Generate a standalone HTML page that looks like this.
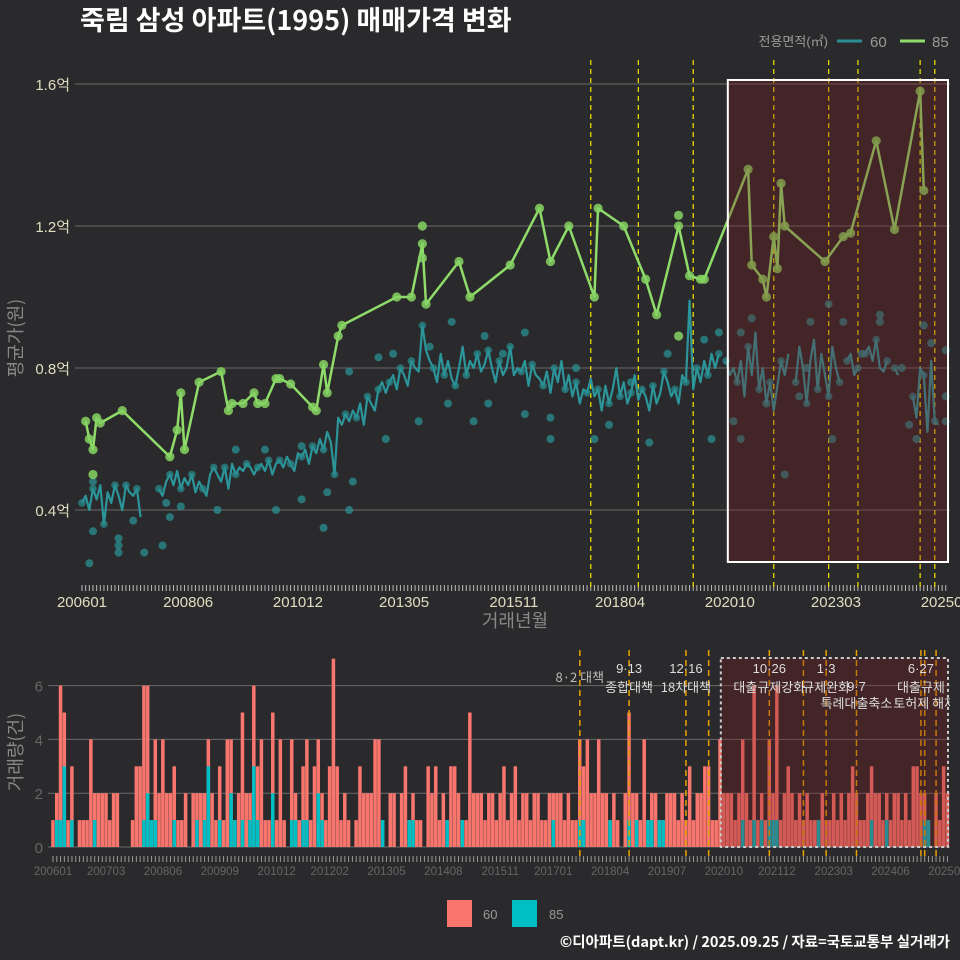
<!DOCTYPE html>
<html><head><meta charset="utf-8">
<style>
html,body{margin:0;padding:0;background:#2a2a2c;}
svg{display:block;font-family:"Liberation Sans","Noto Sans CJK KR",sans-serif;}
</style></head>
<body>
<svg id="chart" width="960" height="960" viewBox="0 0 960 960" xmlns="http://www.w3.org/2000/svg">
<rect x="0" y="0" width="960" height="960" fill="#2a2a2c"/>
<text x="80" y="30" fill="#ffffff" font-size="27" font-weight="bold" font-family="'Noto Sans CJK KR',sans-serif">죽림 삼성 아파트(1995) 매매가격 변화</text>
<g id="topPanel"></g>
<g id="botPanel"></g>
<g>
<text x="828" y="46" fill="#999" font-size="13" text-anchor="end">전용면적(㎡)</text>
<line x1="837" y1="41" x2="862" y2="41" stroke="#2b8f94" stroke-width="3"/>
<text x="870" y="47" fill="#999" font-size="15">60</text>
<line x1="900" y1="41" x2="925" y2="41" stroke="#8fdc6a" stroke-width="3"/>
<text x="932" y="47" fill="#999" font-size="15">85</text>
</g>
<g>
<rect x="447" y="900" width="25" height="27" fill="#f8766d"/>
<text x="483" y="919" fill="#999" font-size="13">60</text>
<rect x="512" y="900" width="25" height="27" fill="#00bfc4"/>
<text x="549" y="919" fill="#999" font-size="13">85</text>
</g>
<text x="950" y="947" fill="#ffffff" font-size="14.5" font-weight="bold" text-anchor="end" font-family="'Noto Sans CJK KR',sans-serif">©디아파트(dapt.kr) / 2025.09.25 / 자료=국토교통부 실거래가</text>
</svg>
<script>
// ---------- data ----------
const topTickLabels = ["200601","200806","201012","201305","201511","201804","202010","202303","202509"];
const topTickMonths = [0,29,59,88,118,147,177,206,236];
const yTickValues = [0.4,0.8,1.2,1.6];
const yTickLabels = ["0.4억","0.8억","1.2억","1.6억"];
const botTickLabels = ["200601","200703","200806","200909","201012","201202","201305","201408","201511","201701","201804","201907","202010","202112","202303","202406","202509"];
const botTickMonths = [0,14,29,44,59,73,88,103,118,132,147,162,177,191,206,221,236];
const botYTicks = [0,2,4,6];
// 85㎡ monthly average [monthIndex, 억]
const s85 = [[1,0.65],[2,0.60],[3,0.57],[4,0.66],[5,0.645],[11,0.68],[24,0.55],[26,0.625],[27,0.73],[28,0.57],[32,0.76],[38,0.79],[40,0.68],[41,0.70],[44,0.70],[47,0.73],[48,0.70],[50,0.70],[53,0.77],[54,0.77],[57,0.755],[63,0.69],[64,0.68],[66,0.81],[67,0.73],[70,0.89],[71,0.92],[86,1.0],[90,1.0],[93,1.15],[94,0.98],[103,1.10],[106,1.0],[117,1.09],[125,1.25],[128,1.10],[133,1.2],[140,1.0],[141,1.25],[148,1.2],[154,1.05],[157,0.95],[163,1.2],[166,1.06],[169,1.05],[170,1.05],[182,1.36],[183,1.09],[186,1.05],[187,1.0],[189,1.17],[190,1.08],[191,1.32],[192,1.2],[203,1.10],[208,1.17],[210,1.18],[217,1.44],[222,1.19],[229,1.58],[230,1.30]];
const s85Extra = [[3,0.50],[93,1.2],[93,1.11],[163,1.23],[163,0.89]];
// 60㎡ monthly average (hundredths of 억), null = no trade
const s60 = [42,44,40,46,43,47,36,45,42,47,44,40,
47,45,44,46,38,null,null,null,null,46,44,48,
50,47,51,46,49,47,50,45,48,46,44,50,
52,50,48,52,46,53,50,52,51,53,52,50,
52,53,51,54,50,53,54,52,55,53,51,56,
55,57,53,58,56,60,57,62,59,50,66,64,
67,65,68,66,70,64,72,70,68,74,76,73,
76,78,74,80,78,75,82,80,79,92,85,82,
80,76,84,78,82,77,75,80,86,78,82,80,
84,79,81,85,80,76,82,78,80,86,78,80,
79,82,75,81,78,77,75,79,73,80,76,82,
74,78,72,76,70,74,73,77,72,74,68,75,
70,74,80,72,76,70,73,78,71,74,72,68,
75,70,73,79,76,72,74,70,78,76,99,74,
80,76,82,78,84,80,84,null,82,78,80,76,
82,72,86,78,90,74,80,70,76,68,75,82,
78,84,null,76,86,80,70,82,88,74,84,78,
72,86,80,76,null,82,84,78,80,null,84,86,
82,88,80,79,82,null,80,78,null,null,null,72,
66,80,78,62,82,65,64,null,null];
const s60Extra = [[2,0.25],[3,0.34],[10,0.32],[10,0.30],[10,0.28],[17,0.28],[22,0.30],[14,0.37],[24,0.38],[23,0.42],[27,0.41],[37,0.40],[53,0.40],[60,0.43],[66,0.35],[67,0.45],[73,0.40],[74,0.48],[73,0.79],[81,0.83],[42,0.57],[50,0.57],[60,0.58],[3,0.48],[101,0.93],[121,0.90],[92,0.65],[107,0.65],[83,0.60],[128,0.60],[140,0.60],[144,0.64],[155,0.59],[172,0.60],[180,0.60],[178,0.65],[205,0.60],[187,0.70],[196,0.72],[204,0.98],[218,0.95],[218,0.93],[226,0.64],[228,0.60],[236,0.65],[236,0.85],[236,0.72],[232,0.87],[230,0.92],[183,0.94],[199,0.93],[208,0.93],[174,0.90],[180,0.90],[192,0.50],[100,0.70],[111,0.70],[121,0.67],[128,0.66],[110,0.89],[85,0.84],[95,0.86],[115,0.84],[135,0.80],[150,0.76],[160,0.84],[170,0.88],[198,0.80],[213,0.84],[224,0.80]];
// monthly trade counts (total) and 85㎡ counts
const volTotal = [1,2,6,5,1,3,0,1,1,1,4,2,
2,2,2,1,2,2,0,0,0,1,3,3,
6,6,1,4,2,4,2,2,3,1,1,2,
0,2,2,2,2,4,2,1,3,1,4,4,
1,2,5,2,2,6,3,4,1,1,5,1,
4,1,0,4,2,1,3,4,1,3,4,2,
1,3,7,3,1,2,1,0,1,3,2,2,
2,4,4,1,0,2,2,0,2,3,1,2,
1,1,0,3,2,3,1,2,1,3,3,2,
1,1,5,2,2,2,1,2,2,1,2,3,
1,2,3,1,2,2,1,2,
2,1,1,2,2,2,2,1,2,1,1,4,3,4,2,2,4,2,2,1,2,1,0,2,5,2,2,1,4,1,2,2,1,1,2,2,2,1,2,1,3,1,2,2,3,3,1,1,4,2,2,2,1,2,4,2,1,6,1,2,1,4,2,6,1,2,3,2,1,2,1,2,1,1,1,2,1,1,2,1,2,1,2,3,2,1,1,2,3,2,2,1,2,1,2,2,1,2,1,3,3,2,2,1,0,2,1,3,2];
const vol85 = [[1,1],[2,1],[3,3],[5,1],[11,1],[24,1],[25,2],[26,1],[27,1],[32,1],[38,1],[40,1],[41,3],[44,1],[47,2],[48,1],[50,1],[52,1],[53,3],[54,1],[58,2],[63,1],[64,1],[66,1],[67,1],[70,2],[71,1],[87,1],[91,1],[94,2],[95,1],[104,1],[108,1],[132,1],[139,1],[140,1],[147,1],[152,1],[154,1],[157,1],[158,1],[160,1],[161,2],[182,1],[185,1],[187,1],[189,1],[190,1],[191,1],[202,1],[216,1],[220,1],[230,1],[231,1]];
// policy events
const policyMonths = [139,152,167,189,204,212,229,233];
const policyMonthsBottom = [139,152,167,173,189,198,204,212,229,230,233];
const annotations = [[139,"","8·2 대책"],[152,"9·13","종합대책"],[167,"12·16","18차대책"],[189,"10·26","대출규제강화"],[204,"1·3","규제완화"],[229,"6·27","대출규제"]];
const highlightStartMonth = 177;

// ---------- scales ----------
const xT = m => 82 + m*3.66;
const yT = v => 510 - (v-0.4)*355;
const xB = m => 53 + m*3.79;
const yB = c => 847 - c*26.9;
const NS = "http://www.w3.org/2000/svg";
function mk(tag, attrs, parent){ const e=document.createElementNS(NS,tag); for(const k in attrs) e.setAttribute(k,attrs[k]); parent.appendChild(e); return e; }

const topG = document.getElementById('topPanel');
const botG = document.getElementById('botPanel');

yTickValues.forEach((v,i)=>{
  const g = mk('line',{x1:75,x2:950,y1:yT(v),y2:yT(v),stroke:'#6a6a6a','stroke-width':1},topG);
  
  
  const t = mk('text',{x:70,y:yT(v)+6,fill:'#e0dcc0','font-size':15,'text-anchor':'end'},topG);
  t.textContent = yTickLabels[i];
  
  
});
for(let m=0;m<=236;m++){
  const tk = mk('line',{x1:xT(m),x2:xT(m),y1:585,y2:591,stroke:'#bbb','stroke-width':1},topG);
  
  
}
topTickLabels.forEach((l,i)=>{
  const t = mk('text',{x:xT(topTickMonths[i]),y:607,fill:'#e0dcc0','font-size':15,'text-anchor':'middle'},topG);
  t.textContent = l;
  
  
});
const xt = mk('text',{x:515,y:627,fill:'#888','font-size':18,'text-anchor':'middle','font-family':"'Noto Sans CJK KR',sans-serif"},topG);
xt.textContent='거래년월';


const yt = mk('text',{x:0,y:0,fill:'#888','font-size':18,'text-anchor':'middle','transform':'translate(22,338) rotate(-90)','font-family':"'Noto Sans CJK KR',sans-serif"},topG);
yt.textContent='평균가(원)';



policyMonths.forEach(m=>{
  const l = mk('line',{x1:xT(m),x2:xT(m),y1:60,y2:590,stroke:'#e8d800','stroke-width':1.3,'stroke-dasharray':'5,4'},topG);
  
  
});

s60Extra.forEach(p=>{
  const c = mk('circle',{cx:xT(p[0]),cy:yT(p[1]),r:4,fill:'#2a8f92','fill-opacity':0.75},topG);
  
  
});
let seg=[];
const segs=[];
s60.forEach((v,m)=>{ if(v===null){ if(seg.length) segs.push(seg); seg=[]; } else seg.push([m,v/100]); });
if(seg.length) segs.push(seg);
segs.forEach(sg=>{
  const pl = mk('polyline',{points:sg.map(p=>xT(p[0])+','+yT(p[1])).join(' '),fill:'none',stroke:'#2b959a','stroke-width':2.2,'stroke-linejoin':'round'},topG);
  
  
  sg.forEach((p,i)=>{ if(i%3===0){
    const c = mk('circle',{cx:xT(p[0]),cy:yT(p[1]),r:3.8,fill:'#2a8f92','fill-opacity':0.7},topG);
    
    
  }});
});
const pl85 = mk('polyline',{points:s85.map(p=>xT(p[0])+','+yT(p[1])).join(' '),fill:'none',stroke:'#8fdc6a','stroke-width':2.5,'stroke-linejoin':'round'},topG);


s85.concat(s85Extra).forEach(p=>{
  const c = mk('circle',{cx:xT(p[0]),cy:yT(p[1]),r:4.6,fill:'#86d363','fill-opacity':0.85},topG);
  
  
});
const hx = xT(highlightStartMonth)-2;
const hr = mk('rect',{x:hx,y:80,width:948-hx,height:482,fill:'rgba(125,25,30,0.3)',stroke:'#ffffff','stroke-width':2},topG);



// ---- bottom panel
botYTicks.forEach(v=>{
  const g = mk('line',{x1:48,x2:950,y1:yB(v),y2:yB(v),stroke:'#6a6a6a','stroke-width':1},botG);
  
  
  const t = mk('text',{x:43,y:yB(v)+6,fill:'#666','font-size':15,'text-anchor':'end'},botG);
  t.textContent = String(v);
  
  
});
const vc85 = new Array(volTotal.length).fill(0);
vol85.forEach(p=>{ vc85[p[0]] = p[1]; });
volTotal.forEach((tot,m)=>{
  if(tot<=0) return;
  const c85 = Math.min(vc85[m],tot);
  const r = mk('rect',{x:xB(m)-1.8,y:yB(tot),width:3.5,height:yB(0)-yB(tot),fill:'#f8766d'},botG);
  
  
  if(c85>0){
    const r2 = mk('rect',{x:xB(m)-1.8,y:yB(c85),width:3.5,height:yB(0)-yB(c85),fill:'#00bfc4'},botG);
    
    
  }
});
for(let m=0;m<=236;m++){
  const tk = mk('line',{x1:xB(m),x2:xB(m),y1:856,y2:862,stroke:'#999','stroke-width':1},botG);
  
  
}
botTickLabels.forEach((l,i)=>{
  const t = mk('text',{x:xB(botTickMonths[i]),y:875,fill:'#666','font-size':11.5,'text-anchor':'middle'},botG);
  t.textContent = l;
  
  
});
const byt = mk('text',{x:0,y:0,fill:'#888','font-size':18,'text-anchor':'middle','transform':'translate(22,752) rotate(-90)','font-family':"'Noto Sans CJK KR',sans-serif"},botG);
byt.textContent='거래량(건)';


policyMonthsBottom.forEach(m=>{
  const l = mk('line',{x1:xB(m),x2:xB(m),y1:650,y2:858,stroke:'#e8a000','stroke-width':1.5,'stroke-dasharray':'6,4'},botG);
  
  
});
const bx = xB(highlightStartMonth)-3;
const br = mk('rect',{x:bx,y:658,width:948-bx,height:189,fill:'rgba(125,25,30,0.3)',stroke:'#cccccc','stroke-width':2,'stroke-dasharray':'3,3'},botG);


const clip = mk('clipPath',{id:'annclip'},botG);
mk('rect',{x:0,y:640,width:950,height:80},clip);
const ag = mk('g',{'clip-path':'url(#annclip)'},botG);
annotations.forEach(a=>{
  const x = xB(a[0]);
  if(a[1]){
    const t1 = mk('text',{x:x,y:673,fill:'#ddd','font-size':13,'text-anchor':'middle'},ag);
    t1.textContent = a[1];
    
    
    const t2 = mk('text',{x:x,y:692,fill:'#ddd','font-size':13,'text-anchor':'middle','font-family':"'Noto Sans CJK KR',sans-serif"},ag);
    t2.textContent = a[2];
    
    
  } else {
    const t = mk('text',{x:x,y:682,fill:'#bbb','font-size':13,'text-anchor':'middle','font-family':"'Noto Sans CJK KR',sans-serif"},ag);
    t.textContent = a[2];
    
    
  }
});
const t97 = mk('text',{x:xB(212),y:691,fill:'#ddd','font-size':13,'text-anchor':'middle'},ag);
t97.textContent='9·7';


const t97b = mk('text',{x:xB(212),y:708,fill:'#ddd','font-size':13,'text-anchor':'middle','font-family':"'Noto Sans CJK KR',sans-serif"},ag);
t97b.textContent='특례대출축소';


const tth = mk('text',{x:xB(230),y:708,fill:'#ddd','font-size':13,'text-anchor':'middle','font-family':"'Noto Sans CJK KR',sans-serif"},ag);
tth.textContent='토허제 해제';


</script>
</body></html>
